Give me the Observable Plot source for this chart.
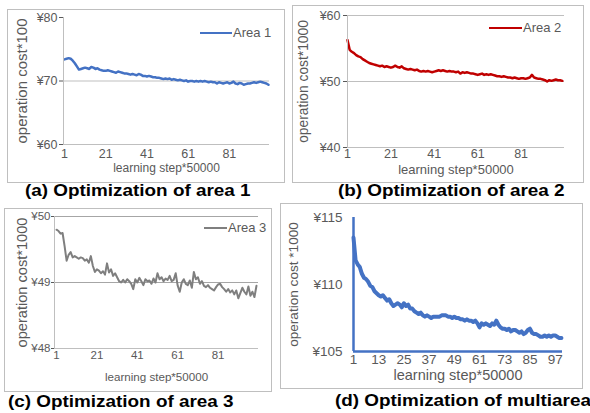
<!DOCTYPE html>
<html><head><meta charset="utf-8">
<script src="https://cdn.jsdelivr.net/npm/d3@7"></script>
<script src="https://cdn.jsdelivr.net/npm/@observablehq/plot@0.6"></script>
<style>
body{margin:0;background:#fff;}
#root{position:relative;width:590px;height:413px;overflow:hidden;font-family:"Liberation Sans",Arial,sans-serif;}
.box{position:absolute;border:1px solid #bfbfbf;box-sizing:border-box;}
.wrap{position:absolute;}
.wrap svg{display:block;overflow:visible;}
.title{position:absolute;font-weight:bold;font-size:16px;line-height:16px;color:#000;white-space:nowrap;transform:scaleX(1.18);transform-origin:0 50%;}
.leg{position:absolute;color:#595959;white-space:nowrap;font-size:13px;line-height:13px;}
.sw{position:absolute;}
</style>
</head><body><div id="root"></div>
<script>
// x categories: learning step*50000
const steps = d3.range(1, 101);

const area1 = [
  73.4, 73.5, 73.6, 73.5, 73.2, 72.8, 72.3, 71.8, 71.9, 72.0,
  72.1, 72.0, 71.9, 72.2, 72.1, 71.9, 72.0, 71.8, 71.7, 71.6,
  71.6, 71.7, 71.6, 71.5, 71.4, 71.3, 71.5, 71.4, 71.3, 71.2,
  71.2, 71.1, 71.0, 71.1, 71.0, 70.9, 71.1, 71.0, 70.8, 70.8,
  70.7, 70.8, 70.7, 70.6, 70.6, 70.5, 70.5, 70.4, 70.3, 70.4,
  70.3, 70.4, 70.2, 70.3, 70.2, 70.1, 70.2, 70.1, 70.0, 70.1,
  69.9, 70.0, 70.0, 69.9, 70.0, 69.9, 70.0, 69.9, 70.0, 69.9,
  69.8, 69.9, 69.8, 69.8, 69.6, 69.8, 69.7, 69.6, 69.7, 69.8,
  69.6, 69.7, 69.9, 69.6, 69.5, 69.7, 69.6, 69.4, 69.5, 69.6,
  69.6, 69.7, 69.8, 69.7, 69.8, 69.9, 69.8, 69.7, 69.6, 69.4
];
const area2 = [
  56.3, 54.8, 54.5, 54.3, 54.0, 53.8, 53.7, 53.4, 53.2, 53.0,
  52.8, 52.7, 52.6, 52.5, 52.4, 52.3, 52.4, 52.2, 52.3, 52.2,
  52.1, 52.2, 52.4, 52.2, 52.1, 52.3, 52.0, 51.9, 51.8, 51.9,
  51.8, 51.7, 51.8, 51.6, 51.5, 51.6, 51.5, 51.6, 51.5, 51.4,
  51.5, 51.6, 51.7, 51.6, 51.7, 51.6, 51.5, 51.6, 51.5, 51.5,
  51.4, 51.5, 51.2, 51.4, 51.3, 51.4, 51.3, 51.2, 51.2, 51.1,
  51.0, 51.1, 51.2, 51.0, 51.1, 51.0, 51.1, 51.0, 50.9, 50.8,
  50.8, 50.7, 50.8, 50.7, 50.6, 50.6, 50.5, 50.6, 50.5, 50.4,
  50.5, 50.5, 50.4, 50.5, 50.6, 51.0, 50.6, 50.5, 50.4, 50.4,
  50.3, 50.2, 50.0, 50.2, 50.1, 50.2, 50.3, 50.2, 50.2, 50.1
];
const area3 = [
  49.80, 49.78, 49.74, 49.75, 49.55, 49.33, 49.42, 49.46, 49.38, 49.40,
  49.38, 49.36, 49.38, 49.37, 49.33, 49.35, 49.30, 49.40, 49.25, 49.16,
  49.20, 49.18, 49.14, 49.17, 49.12, 49.29, 49.15, 49.20, 49.10, 49.14,
  49.08, 49.02, 49.00, 49.04, 49.00, 49.05, 49.02, 48.98, 48.90, 49.05,
  49.00, 49.07, 49.02, 48.96, 49.05, 49.02, 49.03, 48.98, 49.06, 49.00,
  49.14, 49.05, 49.08, 49.02, 49.06, 49.04, 49.10, 49.02, 49.04, 49.14,
  48.95, 48.86, 49.00, 49.05, 48.98, 48.96, 49.03, 48.92, 49.16, 49.05,
  49.08, 48.98, 49.02, 48.95, 48.93, 48.96, 48.92, 48.90, 48.88, 48.93,
  48.97, 48.98, 48.93, 48.90, 48.86, 48.90, 48.85, 48.88, 48.82, 48.88,
  48.76, 48.84, 48.92, 48.86, 48.82, 48.94, 48.80, 48.86, 48.78, 48.95
];
const multiarea = [
  113.5, 111.8, 111.5, 111.3, 110.8, 110.5, 110.4, 110.2, 109.9, 109.8,
  109.5, 109.35, 109.2, 109.1, 109.2, 109.0, 108.8, 108.9, 108.6, 108.4,
  108.5, 108.6, 108.5, 108.3, 108.6, 108.4, 108.5, 108.2, 108.2, 108.0,
  107.9, 107.8, 107.9, 107.7, 107.6, 107.7, 107.6, 107.5, 107.6, 107.6,
  107.6, 107.6, 107.7, 107.7, 107.7, 107.6, 107.6, 107.5, 107.6, 107.5,
  107.5, 107.4, 107.4, 107.3, 107.4, 107.3, 107.3, 107.2, 107.3, 107.1,
  106.8, 107.1, 107.0, 107.1, 107.0, 106.9, 107.1, 107.0, 107.3, 107.0,
  106.8, 106.7, 106.7, 106.6, 106.7, 106.5, 106.6, 106.6, 106.5, 106.4,
  106.5, 106.3, 106.4, 106.6, 106.7, 106.4, 106.3, 106.3, 106.2, 106.1,
  106.1, 106.2, 106.1, 106.2, 106.1, 106.2, 106.2, 106.1, 106.0, 106.0
];

const xTicksA = [1, 21, 41, 61, 81];
const xTicksD = [1, 13, 25, 37, 49, 61, 73, 85, 97];
const yTicksA = [60, 70, 80];
const yTicksB = [40, 50, 60];
const yTicksC = [48, 49, 50];
const yTicksD = [105, 110, 115];
const gridA = [70];
const gridB = [50, 60];
const gridC = [49, 50];
const gridD = [];

const xLabel = "learning step*50000";
const yLabelA = "operation cost*100";
const yLabelBC = "operation cost*1000";
const yLabelD = "operation cost *1000";
const titles = ["(a) Optimization of area 1", "(b) Optimization of area 2", "(c) Optimization of area 3", "(d) Optimization of multiarea"];
const legendNames = ["Area 1", "Area 2", "Area 3"];

const root = document.getElementById("root");

function panel(c) {
  const box = document.createElement("div");
  box.className = "box";
  Object.assign(box.style, {left: c.left + "px", top: c.top + "px", width: c.width + "px", height: c.height + "px"});
  root.appendChild(box);
  const svg = Plot.plot({
    width: c.width, height: c.height,
    marginLeft: c.mL, marginRight: c.mR, marginTop: c.mT, marginBottom: c.mB,
    style: {fontFamily: '"Liberation Sans", Arial, sans-serif', fontSize: c.tickFont + "px", color: "#595959", background: "transparent", overflow: "visible"},
    x: {domain: c.xDomain, ticks: c.xTicks, tickSize: 0, tickPadding: c.xPad, label: null, tickFormat: d => String(d)},
    y: {domain: c.yDomain, ticks: c.yTicks, tickSize: c.yTickSize, tickPadding: c.yPad, label: null, tickFormat: d => "¥" + d},
    marks: [
      Plot.ruleY(c.grid, {stroke: c.gridColor, strokeWidth: 1}),
      Plot.ruleY([c.yDomain[0]], {stroke: c.axisColor, strokeWidth: c.axisWidth}),
      Plot.line(c.values, {x: steps, y: c.values, stroke: c.color, strokeWidth: c.lineWidth, strokeLinejoin: "round"}),
      Plot.ruleX([c.xDomain[0]], {stroke: c.axisColor, strokeWidth: c.axisWidth}),
      Plot.text([xLabel], {frameAnchor: "bottom", textAnchor: "middle", dy: c.xLabDy, fontSize: c.xLabFont, fill: "#595959"}),
      Plot.text([c.yLabel], {frameAnchor: "left", textAnchor: "middle", dx: c.yLabDx, rotate: -90, fontSize: c.yLabFont, fill: "#595959"})
    ]
  });
  const wrap = document.createElement("div");
  wrap.className = "wrap";
  Object.assign(wrap.style, {left: c.left + "px", top: c.top + "px"});
  wrap.appendChild(svg);
  root.appendChild(wrap);
  if (c.legend) {
    const sw = document.createElement("div");
    sw.className = "sw";
    Object.assign(sw.style, {left: c.legend.x0 + "px", top: (c.legend.y - c.lineWidth / 2) + "px", width: (c.legend.x1 - c.legend.x0) + "px", height: c.lineWidth + "px", background: c.color});
    root.appendChild(sw);
    const t = document.createElement("div");
    t.className = "leg";
    t.textContent = c.legend.name;
    Object.assign(t.style, {left: (c.legend.x1 + 1) + "px", top: (c.legend.y - 7) + "px"});
    root.appendChild(t);
  }
  const tt = document.createElement("div");
  tt.className = "title";
  tt.textContent = c.title;
  Object.assign(tt.style, {left: c.titleX + "px", top: (c.titleY - 8) + "px"});
  root.appendChild(tt);
}

panel({left: 7, top: 9, width: 278, height: 174, mL: 56, mR: 16, mT: 8, mB: 39,
  xDomain: [0.5, 100.5], xTicks: xTicksA, yDomain: [60, 80], yTicks: yTicksA, grid: gridA,
  values: area1, color: "#4472C4", lineWidth: 2.5, axisColor: "#bfbfbf", axisWidth: 1, gridColor: "#bfbfbf",
  tickFont: 12.5, xPad: 5, yTickSize: 4, yPad: 2,
  xLabDy: 27, xLabFont: 12, yLabel: yLabelA, yLabDx: -41, yLabFont: 15,
  legend: {x0: 200, x1: 232, y: 33, name: legendNames[0]}, title: titles[0], titleX: 25, titleY: 191});

panel({left: 292, top: 5, width: 292, height: 178, mL: 55, mR: 20, mT: 10, mB: 36,
  xDomain: [1, 101], xTicks: xTicksA, yDomain: [40, 60], yTicks: yTicksB, grid: gridB,
  values: area2, color: "#C00000", lineWidth: 2.5, axisColor: "#bfbfbf", axisWidth: 1, gridColor: "#bfbfbf",
  tickFont: 12.5, xPad: 2, yTickSize: 4, yPad: 3,
  xLabDy: 26, xLabFont: 13, yLabel: yLabelBC, yLabDx: -44, yLabFont: 13.8,
  legend: {x0: 489, x1: 522, y: 28, name: legendNames[1]}, title: titles[1], titleX: 338, titleY: 191});

panel({left: 4, top: 208, width: 268, height: 184, mL: 50, mR: 14, mT: 8, mB: 44,
  xDomain: [0, 101], xTicks: xTicksA, yDomain: [48, 50], yTicks: yTicksC, grid: gridC,
  values: area3, color: "#7F7F7F", lineWidth: 2, axisColor: "#bfbfbf", axisWidth: 1, gridColor: "#a6a6a6",
  tickFont: 11.5, xPad: 2, yTickSize: 3, yPad: 1,
  xLabDy: 32, xLabFont: 11.6, yLabel: yLabelBC, yLabDx: -32, yLabFont: 14.6,
  legend: {x0: 204, x1: 227, y: 228, name: legendNames[2]}, title: titles[2], titleX: 8, titleY: 402});

panel({left: 280, top: 203, width: 303, height: 186, mL: 73, mR: 21, mT: 14, mB: 38,
  xDomain: [1, 100.5], xTicks: xTicksD, yDomain: [105, 115], yTicks: yTicksD, grid: gridD,
  values: multiarea, color: "#4472C4", lineWidth: 4, axisColor: "#4472C4", axisWidth: 2.5, gridColor: "#bfbfbf",
  tickFont: 13.5, xPad: 3, yTickSize: 0, yPad: 11,
  xLabDy: 28, xLabFont: 14.5, yLabel: yLabelD, yLabDx: -60, yLabFont: 13.6,
  legend: null, title: titles[3], titleX: 335, titleY: 401});
</script></body></html>
